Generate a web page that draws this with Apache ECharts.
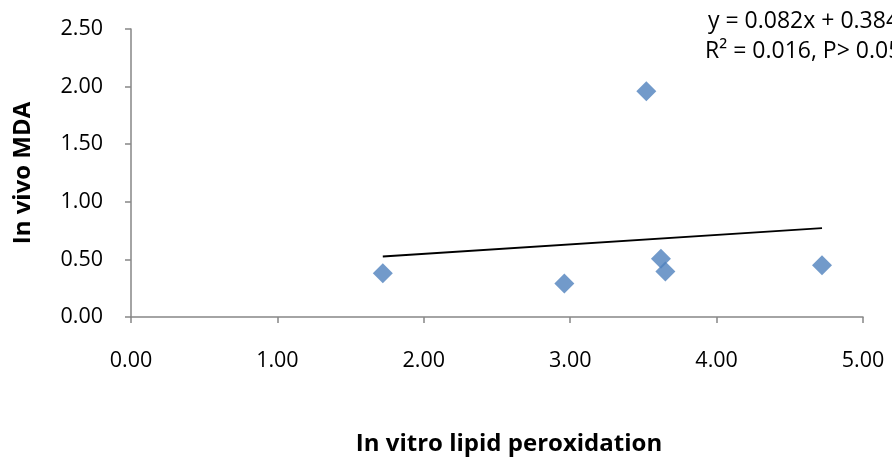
<!DOCTYPE html>
<html>
<head>
<meta charset="utf-8">
<script src="https://cdn.jsdelivr.net/npm/echarts@6/dist/echarts.min.js"></script>
<style>
  html, body { margin: 0; padding: 0; background: #fff; }
  #chart { width: 892px; height: 464px; }
</style>
</head>
<body>
<div id="chart"></div>
<script>
// In vitro lipid peroxidation vs in vivo MDA
const xValues = [1.72, 2.96, 3.52, 3.62, 3.65, 4.72];
const yValues = [0.38, 0.29, 1.96, 0.505, 0.395, 0.45];

// Linear fit reported on the chart
const slope = 0.082;
const intercept = 0.384;
const eqLine1 = 'y = 0.082x + 0.384';
const eqLine2 = 'R² = 0.016, P> 0.05';

const xTitle = 'In vitro lipid peroxidation';
const yTitle = 'In vivo MDA';

const points = xValues.map((x, i) => [x, yValues[i]]);
const xMin = Math.min(...xValues);
const xMax = Math.max(...xValues);
const fitLine = [[xMin, slope * xMin + intercept], [xMax, slope * xMax + intercept]];

const FONT = '"Open Sans", "Noto Sans", sans-serif';
const axisGray = '#868686';

const chart = echarts.init(document.getElementById('chart'));
chart.setOption({
  animation: false,
  backgroundColor: '#ffffff',
  grid: { left: 131, right: 29, top: 29, bottom: 147, containLabel: false },
  xAxis: {
    type: 'value',
    min: 0, max: 5, interval: 1,
    name: xTitle,
    nameLocation: 'middle',
    nameGap: 115,
    nameTextStyle: { fontFamily: FONT, fontSize: 24, fontWeight: 'bold', color: '#000', padding: [0, 0, 0, 24] },
    axisLine: { show: true, lineStyle: { color: axisGray, width: 1.5 } },
    axisTick: { show: true, length: 6, inside: false, lineStyle: { color: axisGray, width: 1.5 } },
    axisLabel: {
      margin: 33, fontFamily: FONT, fontSize: 21.5, color: '#000',
      formatter: v => v.toFixed(2)
    },
    splitLine: { show: false }
  },
  yAxis: {
    type: 'value',
    min: 0, max: 2.5, interval: 0.5,
    name: yTitle,
    nameLocation: 'middle',
    nameGap: 96,
    nameRotate: 90,
    nameTextStyle: { fontFamily: FONT, fontSize: 24, fontWeight: 'bold', color: '#000' },
    axisLine: { show: true, lineStyle: { color: axisGray, width: 1.5 } },
    axisTick: { show: true, length: 6, inside: false, lineStyle: { color: axisGray, width: 1.5 } },
    axisLabel: {
      margin: 28, fontFamily: FONT, fontSize: 21.5, color: '#000',
      formatter: v => v.toFixed(2)
    },
    splitLine: { show: false }
  },
  series: [
    {
      type: 'line',
      data: fitLine,
      symbol: 'none',
      lineStyle: { color: '#000', width: 1.8 },
      z: 2
    },
    {
      type: 'scatter',
      data: points,
      symbol: 'diamond',
      symbolSize: 20,
      itemStyle: { color: '#4F81BD' },
      z: 3
    }
  ],
  graphic: [
    {
      type: 'text', left: 708, top: 10,
      style: { text: eqLine1, font: '23px ' + FONT, fill: '#000' }
    },
    {
      type: 'text', left: 705, top: 40,
      style: { text: eqLine2, font: '23px ' + FONT, fill: '#000' }
    }
  ]
});
</script>
</body>
</html>
